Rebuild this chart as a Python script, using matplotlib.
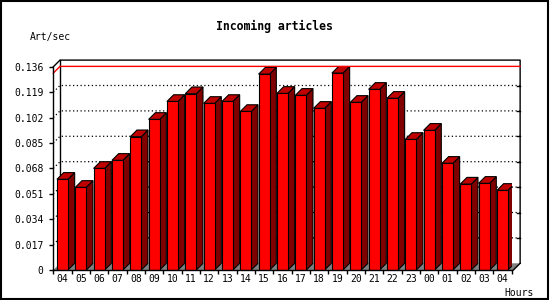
import matplotlib
matplotlib.use("Agg")
import matplotlib.pyplot as plt
from matplotlib.patches import Polygon, Rectangle
import numpy as np

hours = ['04', '05', '06', '07', '08', '09', '10', '11', '12', '13', '14', '15',
         '16', '17', '18', '19', '20', '21', '22', '23', '00', '01', '02', '03', '04']
rates = [0.0607, 0.0553, 0.0680, 0.0734, 0.0892, 0.1008, 0.1128, 0.1180, 0.1115,
         0.1128, 0.1061, 0.1311, 0.1182, 0.1169, 0.1082, 0.1318, 0.1122, 0.1209,
         0.1149, 0.0874, 0.0935, 0.0714, 0.0575, 0.0580, 0.0533]
yticks = [0, 0.017, 0.034, 0.051, 0.068, 0.085, 0.102, 0.119, 0.136]
ytick_labels = ['0', '0.017', '0.034', '0.051', '0.068', '0.085', '0.102', '0.119', '0.136']

font = 'DejaVu Sans Mono'
n = len(hours)
ymax = yticks[-1]

fig = plt.figure(figsize=(5.5, 3), dpi=100)
fig.patch.set_facecolor('white')
ax = fig.add_axes([53.3 / 550, 30 / 300, 458.3 / 550, 203.2 / 300])
ax.set_xlim(0, n)
ax.set_ylim(0, ymax)
ax.patch.set_visible(False)

# depth of the fake 3d look, in data units (about 6.7 px)
dx = 6.7 / (458.3 / n)
dy = 6.7 * ymax / 203.2
right = n + 0.1

# back plane
ax.plot([0, dx, right + dx, right + dx], [ymax, ymax + dy, ymax + dy, dy],
        color='black', lw=1, clip_on=False, zorder=1)
ax.plot([dx, dx], [dy, ymax + dy], color='black', lw=1, clip_on=False, zorder=1)

# floor
ax.add_patch(Polygon([(0, 0), (right, 0), (right + dx, dy), (dx, dy)],
                     closed=True, fc='#808080', ec='none', clip_on=False, zorder=1))
ax.plot([right, right + dx], [0, dy], color='black', lw=1, clip_on=False, zorder=2)

# dotted grid on the back plane + right ticks
for v in yticks[1:-1]:
    ax.plot([0, dx, right + dx], [v, v + dy, v + dy], color='black', lw=0.9,
            linestyle=(0, (1, 2)), clip_on=False, zorder=1)
    ax.plot([right + dx - 0.16, right + dx], [v + dy, v + dy], color='black',
            lw=1, clip_on=False, zorder=1)

# max line
m = max(rates)
ax.plot([0, dx, right + dx], [m, m + dy, m + dy], color='#ff0000', lw=1,
        clip_on=False, zorder=1.5)

# bars
x = np.arange(n) + 0.5
w = 0.6
for xc, v in zip(x, rates):
    xl, xr = xc - w / 2, xc + w / 2
    ax.add_patch(Polygon([(xr, 0), (xr + dx, dy), (xr + dx, v + dy), (xr, v)],
                         closed=True, fc='#800000', ec='black', lw=0.8, zorder=3))
    ax.add_patch(Polygon([(xl, v), (xl + dx, v + dy), (xr + dx, v + dy), (xr, v)],
                         closed=True, fc='#c00000', ec='black', lw=0.8, zorder=3))
ax.bar(x, rates, width=w, color='#ff0000', edgecolor='black', linewidth=0.8, zorder=4)

# axes
for s in ['top', 'right']:
    ax.spines[s].set_visible(False)
for s in ['left', 'bottom']:
    ax.spines[s].set_linewidth(1)
    ax.spines[s].set_zorder(5)

ax.set_yticks(yticks)
ax.set_yticklabels(ytick_labels, family=font, fontsize=7)
ax.tick_params(axis='y', direction='out', length=3, width=1, pad=4)

ax.set_xticks(np.arange(n + 1))
ax.set_xticklabels([])
ax.set_xticks(x, minor=True)
ax.set_xticklabels(hours, minor=True, family=font, fontsize=7)
ax.tick_params(axis='x', which='major', direction='out', length=3, width=1)
ax.tick_params(axis='x', which='minor', length=0, pad=3)

fig.text(274 / 550, 1 - 26.7 / 300, 'Incoming articles', family=font,
         fontsize=8.3, fontweight='bold', ha='center', va='center')
fig.text(50 / 550, 1 - 37 / 300, 'Art/sec', family=font, fontsize=7,
         ha='center', va='center')
fig.text(519 / 550, 1 - 292.5 / 300, 'Hours', family=font, fontsize=7,
         ha='center', va='center')

fig.patches.append(Rectangle((0.001, 0.002), 0.996, 0.995, transform=fig.transFigure,
                             fill=False, ec='black', lw=1.5))

fig.savefig('out.png', dpi=100)
